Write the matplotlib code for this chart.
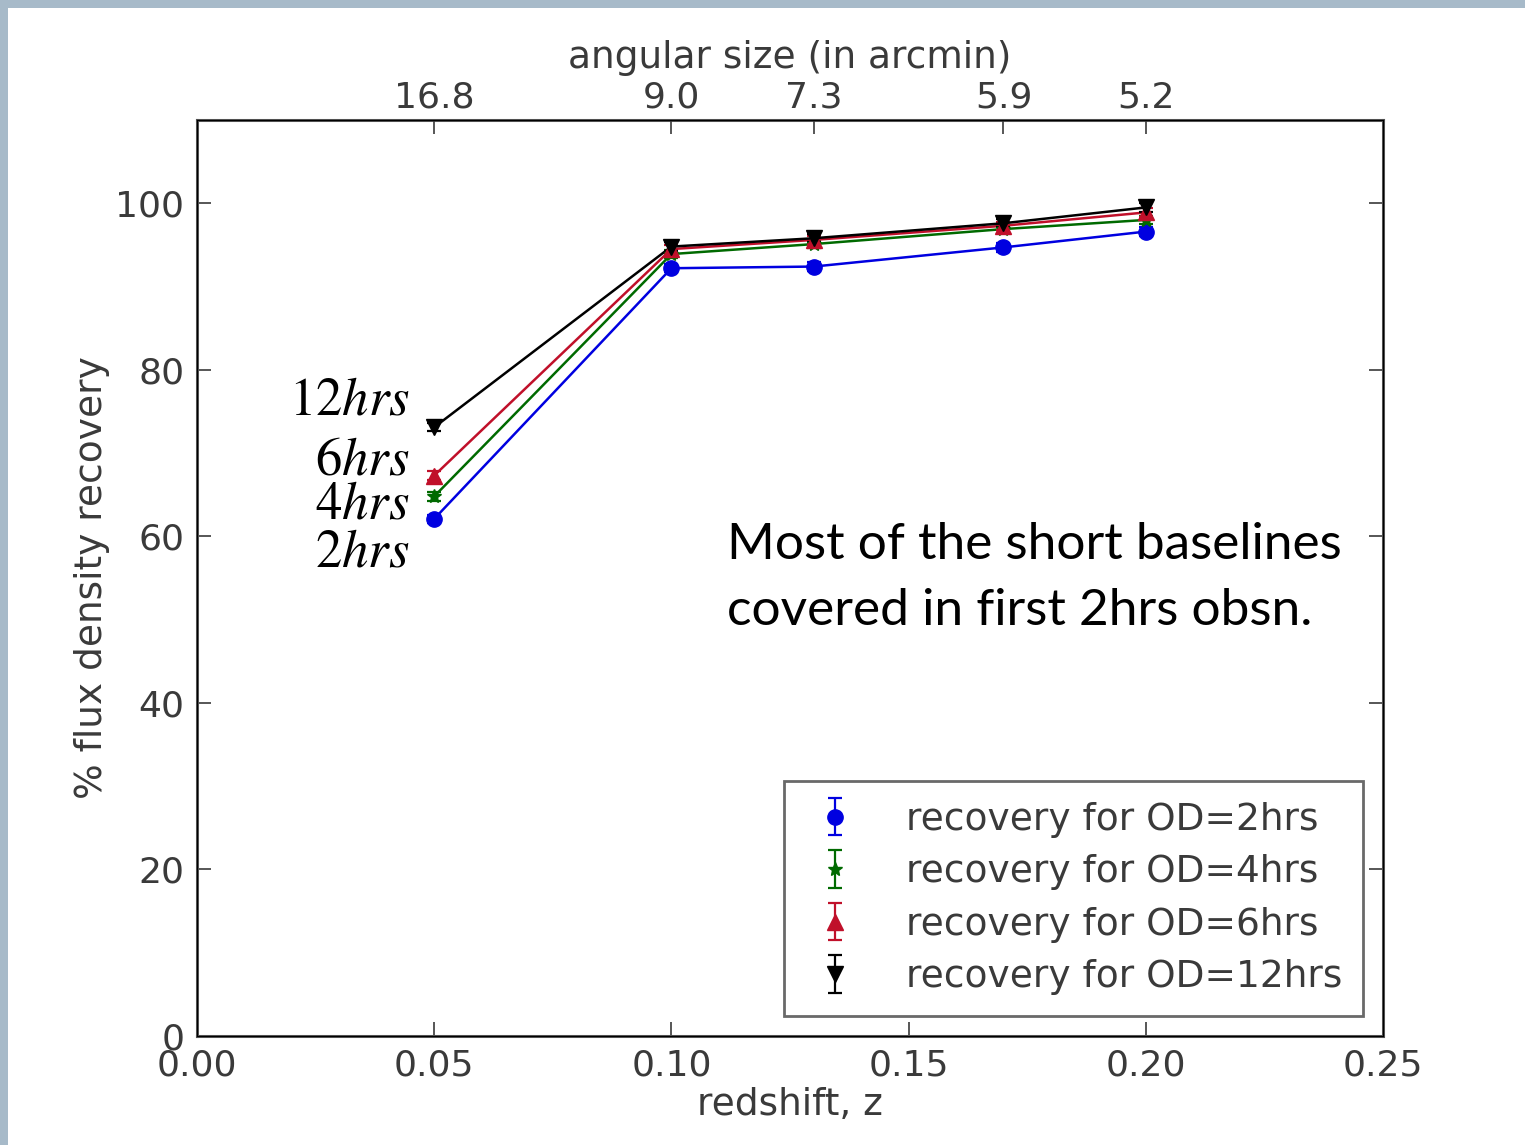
import matplotlib.pyplot as plt
from matplotlib.patches import Rectangle

# data
redshift = [0.05, 0.10, 0.13, 0.17, 0.20]
ang_size = ['16.8', '9.0', '7.3', '5.9', '5.2']
rec_2hrs = [62.1, 92.2, 92.4, 94.7, 96.6]
rec_4hrs = [64.8, 93.9, 95.1, 96.9, 98.0]
rec_6hrs = [67.3, 94.5, 95.6, 97.3, 98.9]
rec_12hrs = [73.1, 94.8, 95.8, 97.6, 99.5]
err = [0.5, 0.5, 0.5, 0.5, 0.5]

labels = ['recovery for OD=2hrs', 'recovery for OD=4hrs',
          'recovery for OD=6hrs', 'recovery for OD=12hrs']
short = ['2hrs', '4hrs', '6hrs', '12hrs']
label_y = [58.2, 63.9, 69.2, 76.4]

plt.rcParams['mathtext.fontset'] = 'stix'

fig = plt.figure(figsize=(15.25, 11.45), dpi=100, facecolor='#a7bac9')
fig.patches.append(Rectangle((8 / 1525, 0), 1, 1 - 8 / 1145, transform=fig.transFigure,
                             fc='white', ec='none', zorder=-10))

ax = fig.add_axes([197 / 1525, 1 - 1036 / 1145, (1383 - 197) / 1525, (1036 - 120) / 1145])
tc = '#3a3a3a'
fs = 26
lfs = 27

series = [(rec_2hrs, 'o', '#0000e0', 11), (rec_4hrs, '*', '#006a00', 10),
          (rec_6hrs, '^', '#c0102a', 11), (rec_12hrs, 'v', 'black', 11)]
handles = []
for (vals, mk, col, ms), lab in zip(series, labels):
    ax.plot(redshift, vals, '-', color=col, lw=1.8)
    h = ax.errorbar(redshift, vals, yerr=err, fmt=mk, linestyle='none', color=col,
                    ms=ms, elinewidth=1.6, capsize=5, capthick=1.6, label=lab)
    handles.append(h)

ax.set_xlim(0, 0.25)
ax.set_ylim(0, 110)
ax.set_xticks([0, 0.05, 0.10, 0.15, 0.20, 0.25])
ax.set_xticklabels(['0.00', '0.05', '0.10', '0.15', '0.20', '0.25'])
ax.set_yticks([0, 20, 40, 60, 80, 100])
ax.tick_params(direction='in', length=10, width=1.2, labelsize=fs, colors=tc,
               top=False, right=True, pad=9)
ax.set_xlabel('redshift, z', fontsize=lfs, color=tc, labelpad=3)
ax.set_ylabel('% flux density recovery', fontsize=lfs, color=tc, labelpad=4)
for sp in ax.spines.values():
    sp.set_color('#555555')
    sp.set_linewidth(2.2)

top = ax.twiny()
top.set_xlim(ax.get_xlim())
top.set_xticks(redshift)
top.set_xticklabels(ang_size)
top.tick_params(direction='in', length=10, width=1.2, labelsize=fs, colors=tc, pad=4)
top.set_xlabel('angular size (in arcmin)', fontsize=lfs, color=tc, labelpad=9)

leg = ax.legend(handles, labels, loc='lower right', bbox_to_anchor=(0.983, 0.022),
                borderaxespad=0, numpoints=1, fontsize=lfs, frameon=True,
                fancybox=False, handlelength=1.6, handletextpad=1.1, borderpad=0.55,
                labelspacing=0.44)
leg.get_frame().set_edgecolor('#444444')
leg.get_frame().set_linewidth(2)
for t in leg.get_texts():
    t.set_color(tc)

for s, y in zip(short, label_y):
    num = s[:-3]
    ax.text(0.0449, y, '$' + num + r'\mathit{hrs}$', fontsize=38, ha='right',
            va='center', color='black')

ax.text(0.1117, 59.0, 'Most of the short baselines', fontsize=37, family='Lato',
        va='center', ha='left', color='black')
ax.text(0.1117, 51.0, 'covered in first 2hrs obsn.', fontsize=37, family='Lato',
        va='center', ha='left', color='black')

fig.savefig('out.png', dpi=100, facecolor=fig.get_facecolor())
